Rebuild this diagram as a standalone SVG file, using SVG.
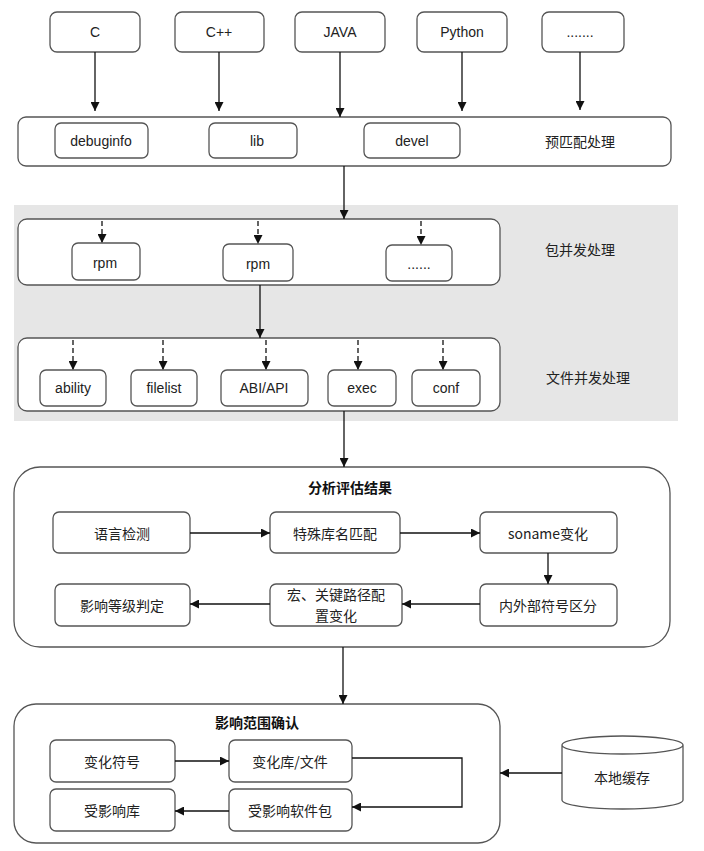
<svg xmlns="http://www.w3.org/2000/svg" width="704" height="851" viewBox="0 0 704 851">
<defs>
<marker id="ah" viewBox="0 0 10 10" refX="10" refY="5" markerWidth="9" markerHeight="9" markerUnits="userSpaceOnUse" orient="auto"><path d="M0,0 L10,5 L0,10 z" fill="#111"/></marker>
<style>
.b{fill:#fff;stroke:#555;stroke-width:1.3}
.t{font-family:"Liberation Sans","Noto Sans CJK SC",sans-serif;font-size:14px;fill:#222;text-anchor:middle;dominant-baseline:central}
.c{font-family:"Noto Sans CJK SC","Liberation Sans",sans-serif;font-size:14px;fill:#222;text-anchor:middle;dominant-baseline:central}
.h{font-family:"Noto Sans CJK SC",sans-serif;font-size:14px;font-weight:bold;fill:#111;text-anchor:middle;dominant-baseline:central}
.l{fill:none;stroke:#111;stroke-width:1.3;marker-end:url(#ah)}
.d{fill:none;stroke:#111;stroke-width:1.3;stroke-dasharray:5,3;marker-end:url(#ah)}
</style>
</defs>
<rect x="14" y="205" width="664" height="216" fill="#e6e6e6"/>
<g id="lang-c"><rect class="b" x="50" y="12" width="90" height="40" rx="7"/><text class="t" x="95" y="32">C</text></g>
<g id="lang-cpp"><rect class="b" x="175" y="12" width="89" height="40" rx="7"/><text class="t" x="219" y="32">C++</text></g>
<g id="lang-java"><rect class="b" x="295" y="12" width="90" height="40" rx="7"/><text class="t" x="340" y="32">JAVA</text></g>
<g id="lang-python"><rect class="b" x="417" y="12" width="90" height="40" rx="7"/><text class="t" x="462" y="32">Python</text></g>
<g id="lang-more"><rect class="b" x="542" y="12" width="82" height="40" rx="7"/><text class="t" x="580" y="32">.......</text></g>
<g id="prematch"><rect class="b" x="18" y="117" width="653" height="49" rx="8"/><text class="c" x="580" y="141">预匹配处理</text></g>
<g id="debuginfo"><rect class="b" x="55" y="123" width="93" height="35" rx="6"/><text class="t" x="101" y="141">debuginfo</text></g>
<g id="lib"><rect class="b" x="209" y="123" width="88" height="35" rx="6"/><text class="t" x="257" y="141">lib</text></g>
<g id="devel"><rect class="b" x="364" y="123" width="96" height="35" rx="6"/><text class="t" x="412" y="141">devel</text></g>
<g id="pkg"><rect class="b" x="18" y="219" width="482" height="66" rx="9"/><text class="c" x="580" y="249">包并发处理</text></g>
<g id="rpm1"><rect class="b" x="72" y="243" width="68" height="37" rx="6"/><text class="t" x="105" y="263">rpm</text></g>
<g id="rpm2"><rect class="b" x="223" y="244" width="70" height="37" rx="6"/><text class="t" x="258" y="264">rpm</text></g>
<g id="rpm-more"><rect class="b" x="386" y="245" width="66" height="36" rx="6"/><text class="t" x="419" y="264">......</text></g>
<g id="file"><rect class="b" x="18" y="338" width="482" height="73" rx="9"/><text class="c" x="588" y="377">文件并发处理</text></g>
<g id="ability"><rect class="b" x="40" y="370" width="66" height="36" rx="6"/><text class="t" x="73" y="388">ability</text></g>
<g id="filelist"><rect class="b" x="131" y="370" width="66" height="36" rx="6"/><text class="t" x="164" y="388">filelist</text></g>
<g id="abiapi"><rect class="b" x="221" y="370" width="87" height="36" rx="6"/><text class="t" x="264" y="388">ABI/API</text></g>
<g id="exec"><rect class="b" x="328" y="370" width="68" height="36" rx="6"/><text class="t" x="362" y="388">exec</text></g>
<g id="conf"><rect class="b" x="412" y="370" width="68" height="36" rx="6"/><text class="t" x="446" y="388">conf</text></g>
<g id="analysis"><rect class="b" x="14" y="467" width="656" height="180" rx="26"/><text class="h" x="350" y="487">分析评估结果</text></g>
<g id="langdetect"><rect class="b" x="53" y="512" width="137" height="41" rx="6"/><text class="c" x="122" y="533">语言检测</text></g>
<g id="speciallib"><rect class="b" x="270" y="512" width="130" height="41" rx="6"/><text class="c" x="335" y="533">特殊库名匹配</text></g>
<g id="soname"><rect class="b" x="480" y="512" width="137" height="41" rx="6"/><text class="c" x="548" y="533">soname变化</text></g>
<g id="level"><rect class="b" x="55" y="584" width="135" height="42" rx="6"/><text class="c" x="122" y="605">影响等级判定</text></g>
<g id="macro"><rect class="b" x="270" y="584" width="132" height="42" rx="6"/><text class="c" x="336" y="594">宏、关键路径配</text><text class="c" x="336" y="615">置变化</text></g>
<g id="symbol"><rect class="b" x="480" y="584" width="137" height="42" rx="6"/><text class="c" x="548" y="605">内外部符号区分</text></g>
<g id="scope"><rect class="b" x="14" y="704" width="486" height="139" rx="22"/><text class="h" x="257" y="722">影响范围确认</text></g>
<g id="chsym"><rect class="b" x="50" y="740" width="125" height="42" rx="6"/><text class="c" x="112" y="761">变化符号</text></g>
<g id="chlib"><rect class="b" x="229" y="740" width="123" height="42" rx="6"/><text class="c" x="290" y="761">变化库/文件</text></g>
<g id="afflib"><rect class="b" x="50" y="789" width="125" height="42" rx="6"/><text class="c" x="112" y="810">受影响库</text></g>
<g id="affpkg"><rect class="b" x="229" y="789" width="123" height="42" rx="6"/><text class="c" x="290" y="810">受影响软件包</text></g>
<g id="cache"><path class="b" d="M562,745 L562,800 A60.5,9 0 0 0 683,800 L683,745 A60.5,9 0 0 0 562,745 A60.5,9 0 0 0 683,745"/><text class="c" x="622" y="777">本地缓存</text></g>
<g id="connectors">
<path class="l" d="M95,52 V111"/>
<path class="l" d="M219,52 V111"/>
<path class="l" d="M340,52 V117"/>
<path class="l" d="M462,52 V111"/>
<path class="l" d="M580,52 V110"/>
<path class="l" d="M344,166 V219"/>
<path class="d" d="M102,221 V243"/>
<path class="d" d="M258,221 V244"/>
<path class="d" d="M421,221 V245"/>
<path class="l" d="M260,285 V338"/>
<path class="d" d="M73,340 V370"/>
<path class="d" d="M163,340 V370"/>
<path class="d" d="M266,340 V370"/>
<path class="d" d="M358,340 V370"/>
<path class="d" d="M443,340 V370"/>
<path class="l" d="M344,411 V467"/>
<path class="l" d="M190,533 H270"/>
<path class="l" d="M400,533 H480"/>
<path class="l" d="M548,553 V584"/>
<path class="l" d="M480,604 H402"/>
<path class="l" d="M270,604 H190"/>
<path class="l" d="M343,647 V704"/>
<path class="l" d="M175,761 H229"/>
<path class="l" d="M352,758 H462 V807 H352"/>
<path class="l" d="M229,811 H175"/>
<path class="l" d="M562,773 H500"/>
</g>
</svg>
